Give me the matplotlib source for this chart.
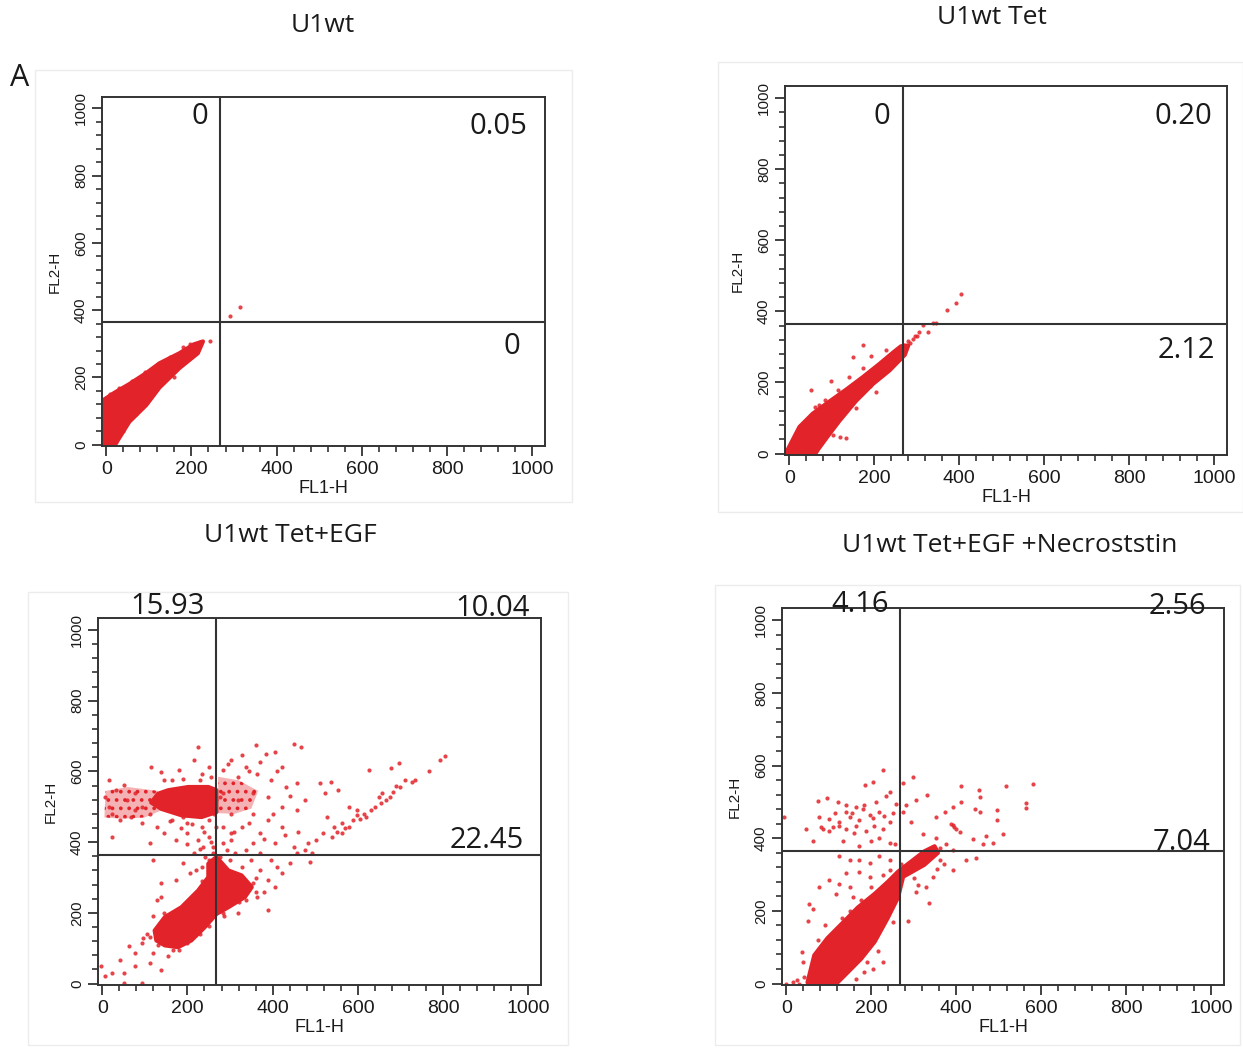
import matplotlib.pyplot as plt
from matplotlib.patches import Polygon, Rectangle
from matplotlib.ticker import MultipleLocator

plt.rcParams["hatch.linewidth"] = 1.5

# ---- data -------------------------------------------------------------
titles = ["U1wt", "U1wt Tet", "U1wt Tet+EGF", "U1wt Tet+EGF +Necroststin"]

# quadrant percentages: upper-left, upper-right, lower-right
quad_ul = ["0", "0", "15.93", "4.16"]
quad_ur = ["0.05", "0.20", "10.04", "2.56"]
quad_lr = ["0", "2.12", "22.45", "7.04"]

gate_x = 268
gate_y = 365

# outline of the dense event cores (FL1-H, FL2-H)
p1_core = [(-4, -3), (-4, 135), (20, 155), (54, 180), (94, 213), (125, 242),
           (172, 272), (205, 298), (227, 307), (215, 272), (172, 228),
           (125, 170), (94, 118), (54, 68), (31, 21), (19, -3)]
p2_core = [(-8, 1), (24, 75), (55, 112), (94, 146), (134, 180), (173, 215),
           (212, 252), (244, 284), (263, 302), (280, 304), (272, 278),
           (236, 234), (197, 196), (157, 148), (118, 92), (90, 48), (68, 12),
           (60, -3)]
p3_core = [(123, 150), (147, 188), (186, 216), (225, 263), (249, 301),
           (249, 339), (268, 358), (296, 320), (327, 306), (351, 273),
           (335, 245), (296, 216), (268, 197), (241, 160), (209, 122),
           (178, 103), (147, 108), (127, 122)]
p3_core_hi = [(131, 537), (155, 547), (202, 556), (249, 556), (268, 547),
              (268, 485), (233, 471), (186, 476), (139, 494), (115, 512)]
p3_mid_right = [(272, 585), (320, 575), (366, 545), (350, 495), (310, 480),
                (272, 482)]
p3_mid_left = [(5, 470), (8, 545), (60, 556), (131, 545), (115, 512),
               (139, 490), (100, 470), (50, 466)]
p4_core = [(50, 3), (66, 78), (97, 125), (137, 172), (168, 209), (208, 247),
           (239, 280), (263, 308), (294, 336), (325, 364), (349, 378),
           (357, 360), (325, 327), (275, 294), (263, 237), (239, 181),
           (208, 115), (176, 68), (137, 22), (113, -6)]

# single sparse events
p1_events = [(290, 383), (315, 408), (243, 308), (220, 305), (31, 168),
             (12, 124), (90, 217), (208, 281), (24, 7), (0, 3), (122, 241),
             (180, 290), (150, 262), (60, 188), (40, 40), (8, 150),
             (196, 300), (110, 150), (70, 90), (160, 200)]
p2_events = [(405, 449), (393, 424), (370, 405), (346, 368), (338, 368),
             (314, 362), (326, 342), (306, 342), (295, 331), (173, 306),
             (149, 272), (193, 275), (228, 290), (98, 204), (51, 178),
             (140, 216), (173, 241), (102, 52), (120, 47), (236, 258),
             (251, 267), (71, 136), (31, 71), (8, 20), (0, 10), (39, 11),
             (134, 43), (204, 174), (157, 127), (280, 318), (290, 322),
             (300, 330), (285, 310), (270, 305), (60, 130), (85, 150),
             (115, 180), (190, 190), (225, 230), (15, 40), (45, 90)]
p3_events = [(224, 669), (361, 675), (449, 679), (467, 669), (406, 655),
             (384, 650), (328, 646), (302, 632), (337, 613), (371, 627),
             (423, 613), (284, 603), (319, 585), (363, 594), (397, 575),
             (432, 556), (458, 566), (475, 519), (458, 491), (423, 500),
             (389, 528), (354, 538), (319, 519), (284, 538), (302, 481),
             (354, 481), (389, 462), (423, 444), (371, 425), (328, 444),
             (284, 444), (302, 406), (354, 397), (406, 397), (449, 387),
             (475, 378), (493, 368), (371, 368), (337, 378), (397, 350),
             (441, 340), (423, 312), (371, 321), (328, 331), (389, 293),
             (354, 284), (406, 274), (389, 209), (363, 246), (302, 237),
             (284, 199), (319, 293), (296, 620), (345, 600), (410, 600),
             (440, 530), (400, 480), (345, 455), (310, 430), (380, 410),
             (430, 420), (460, 430), (350, 350), (410, 330), (300, 350),
             (330, 300), (360, 300), (380, 260), (340, 265), (315, 260),
             (805, 643), (792, 632), (766, 602), (735, 575), (727, 570),
             (696, 624), (679, 611), (700, 556), (683, 542), (666, 519),
             (649, 528), (627, 603), (631, 491), (614, 481), (597, 491),
             (580, 500), (588, 462), (562, 453), (545, 444), (527, 472),
             (540, 415), (519, 425), (501, 406), (484, 397), (510, 566),
             (536, 570), (553, 547), (523, 538), (562, 425), (580, 444),
             (657, 538), (675, 528), (597, 476), (640, 500), (488, 345),
             (458, 368), (620, 470), (605, 465), (570, 440), (550, 430),
             (655, 510), (690, 560), (710, 575),
             (7, 528), (24, 481), (33, 547), (59, 519), (76, 538), (94, 500),
             (16, 500), (42, 462), (68, 472), (111, 481), (128, 444),
             (94, 453), (115, 613), (137, 599), (146, 575), (24, 415),
             (111, 397), (120, 350), (163, 575), (180, 603), (233, 594),
             (250, 613), (215, 632), (16, 575), (50, 561), (76, 491),
             (146, 425), (172, 406), (198, 425), (224, 406), (250, 415),
             (215, 368), (189, 340), (172, 293), (137, 284), (128, 237),
             (146, 199), (207, 312), (233, 331), (250, 293), (241, 359),
             (259, 387), (267, 444), (263, 481), (276, 528), (190, 580),
             (230, 575), (255, 585), (160, 460), (210, 450), (240, 430),
             (255, 400), (230, 380), (260, 370), (200, 395), (185, 440),
             (-2, 49), (7, 21), (24, 30), (42, 68), (50, 2), (63, 105),
             (76, 86), (94, 115), (94, 2), (111, 133), (137, 39), (50, 30),
             (120, 86), (76, 49), (111, 58), (146, 115), (180, 96), (154, 77),
             (198, 115), (215, 143), (250, 162), (259, 190), (319, 199),
             (337, 237), (267, 246), (302, 274), (137, 246), (120, 190),
             (250, 350), (276, 359), (284, 331), (259, 321), (237, 387),
             (293, 378), (311, 368), (284, 397), (302, 425), (250, 462),
             (233, 444), (198, 453), (215, 481), (189, 472), (163, 462),
             (105, 140), (95, 130), (130, 110), (165, 95), (230, 140),
             (285, 190), (320, 230), (360, 260), (235, 290), (220, 320)]
p4_events = [(227, 587), (298, 568), (274, 552), (203, 555), (186, 547),
             (412, 543), (453, 533), (518, 543), (581, 549), (565, 496),
             (565, 484), (495, 477), (495, 449), (455, 472), (443, 481),
             (412, 499), (457, 515), (392, 486), (373, 472), (392, 437),
             (388, 439), (353, 458), (330, 519), (306, 505), (282, 491),
             (274, 472), (294, 444), (322, 411), (353, 402), (408, 416),
             (439, 397), (471, 407), (487, 388), (463, 383), (510, 411),
             (424, 341), (447, 345), (392, 313), (361, 341), (345, 294),
             (329, 266), (306, 252), (337, 223), (286, 172), (377, 383),
             (392, 369), (361, 374), (329, 341), (370, 330), (300, 290),
             (310, 270), (355, 315), (395, 430), (400, 425),
             (74, 502), (97, 510), (121, 499), (141, 491), (165, 486),
             (184, 491), (212, 501), (235, 517), (243, 528), (259, 495),
             (219, 472), (196, 463), (172, 449), (149, 458), (125, 444),
             (101, 454), (82, 430), (86, 425), (101, 420), (125, 435),
             (141, 425), (165, 435), (188, 420), (207, 435), (227, 425),
             (243, 444), (62, 392), (46, 425), (-5, 458), (133, 392),
             (172, 378), (200, 392), (219, 402), (243, 388), (255, 383),
             (141, 472), (78, 458), (110, 430), (155, 470), (180, 480),
             (230, 460), (250, 470), (205, 455), (160, 415), (115, 470),
             (125, 350), (149, 341), (172, 341), (196, 332), (219, 350),
             (243, 341), (141, 303), (172, 308), (196, 294), (227, 299),
             (243, 313), (78, 266), (101, 285), (125, 275), (149, 266),
             (117, 247), (157, 237), (54, 219), (62, 205), (50, 172),
             (38, 87), (15, 3), (0, 0), (31, 0), (41, 19), (212, 209),
             (188, 181), (165, 153), (219, 153), (227, 59), (203, 40),
             (182, 31), (165, 12), (150, 200), (130, 180), (175, 230),
             (200, 265), (225, 260), (90, 160), (75, 120), (40, 60),
             (25, 10), (215, 90), (190, 60), (250, 170), (270, 330)]

cores = [[p1_core], [p2_core], [p3_core, p3_core_hi], [p4_core]]
mids = [[], [], [p3_mid_right, p3_mid_left], []]
events = [p1_events, p2_events, p3_events, p4_events]

# ---- layout (pixel boxes of the four plots) ---------------------------
W, H = 1243, 1049
boxes = [(102, 97, 545, 446), (785, 86, 1227, 455),
         (98, 618, 541, 985), (782, 608, 1224, 985)]
frames = [(35, 70, 572, 502), (718, 62, 1243, 512),
          (28, 592, 568, 1045), (715, 585, 1240, 1045)]
title_pos = [(323, 25), (992, 17), (290, 536), (1010, 545)]
ul_pos = [(200, 117), (882, 116), (168, 607), (860, 605)]
ur_pos = [(498, 127), (1183, 117), (492, 609), (1177, 607)]
lr_pos = [(512, 347), (1186, 350), (487, 841), (1182, 842)]

red = "#e2232a"
txt_font = "Open Sans"

fig = plt.figure(figsize=(W / 100, H / 100), dpi=100)

for i in range(4):
    fx0, fy0, fx1, fy1 = frames[i]
    fig.patches.append(Rectangle((fx0 / W, 1 - fy1 / H), (fx1 - fx0) / W,
                                 (fy1 - fy0) / H, transform=fig.transFigure,
                                 fill=False, edgecolor="#ececec", lw=1))

    l, t, r, b = boxes[i]
    ax = fig.add_axes([l / W, 1 - b / H, (r - l) / W, (b - t) / H])
    ax.set_xlim(-10, 1030)
    ax.set_ylim(-4, 1034)

    # medium-density areas: speckled fill
    for poly in mids[i]:
        ax.add_patch(Polygon(poly, closed=True, facecolor=(0.89, 0.14, 0.16, 0.35),
                             edgecolor=red, lw=0, hatch=".."))
    for poly in cores[i]:
        ax.add_patch(Polygon(poly, closed=True, facecolor=red,
                             edgecolor=red, lw=3, joinstyle="round"))
    ex = [p[0] for p in events[i]]
    ey = [p[1] for p in events[i]]
    ax.scatter(ex, ey, s=9, color=red, alpha=0.85, linewidths=0)

    ax.axvline(gate_x, color="#333333", lw=1.5)
    ax.axhline(gate_y, color="#333333", lw=1.5)

    for sp in ax.spines.values():
        sp.set_color("#333333")
        sp.set_linewidth(1.4)

    ax.set_xticks(range(0, 1001, 200))
    ax.set_yticks(range(0, 1001, 200))
    ax.xaxis.set_minor_locator(MultipleLocator(40))
    ax.yaxis.set_minor_locator(MultipleLocator(40))
    ax.tick_params(which="major", direction="out", length=7, width=1.3,
                   color="#333333")
    ax.tick_params(which="minor", direction="out", length=4, width=1.2,
                   color="#333333")
    ax.tick_params(axis="x", labelsize=14, pad=4, labelcolor="#1a1a1a")
    ax.tick_params(axis="y", labelsize=11, pad=3, labelcolor="#1a1a1a")
    for lab in ax.get_xticklabels():
        lab.set_family("Liberation Sans")
    for lab in ax.get_yticklabels():
        lab.set_family("Liberation Sans")
        lab.set_rotation(90)
        lab.set_va("center")
    ax.set_xlabel("FL1-H", fontsize=13, family="Liberation Sans",
                  labelpad=1, color="#1a1a1a")
    ax.set_ylabel("FL2-H", fontsize=11, family="Liberation Sans",
                  labelpad=9, color="#1a1a1a")

    tx, ty = title_pos[i]
    fig.text(tx / W, 1 - ty / H, titles[i], fontsize=19, family=txt_font,
             ha="center", va="center", color="#1a1a1a")
    for lab, (qx, qy) in zip([quad_ul[i], quad_ur[i], quad_lr[i]],
                             [ul_pos[i], ur_pos[i], lr_pos[i]]):
        fig.text(qx / W, 1 - qy / H, lab, fontsize=21, family=txt_font,
                 ha="center", va="center", color="#1a1a1a")

fig.text(20 / W, 1 - 78 / H, "A", fontsize=22, family=txt_font,
         ha="center", va="center", color="#1a1a1a")

fig.savefig("out.png", dpi=100)
